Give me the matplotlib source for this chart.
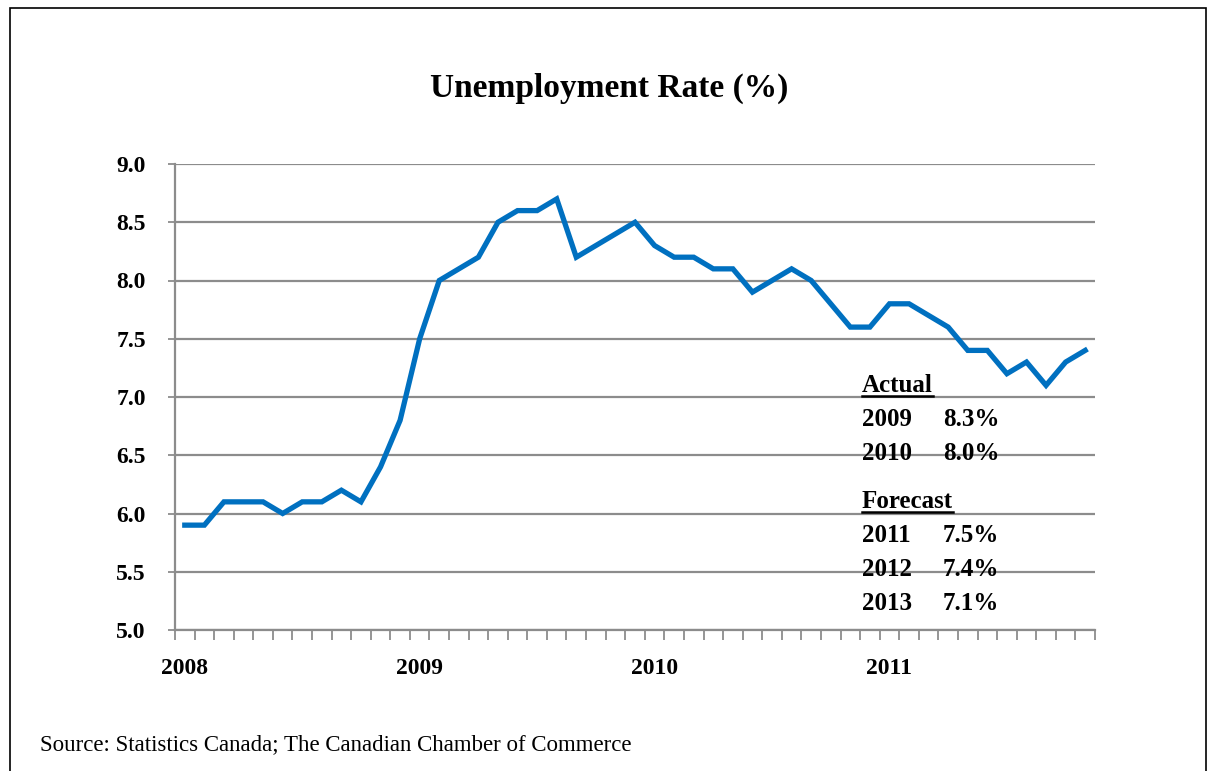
import matplotlib.pyplot as plt
from matplotlib.lines import Line2D
from matplotlib.patches import Rectangle

plt.rcParams["font.family"] = ["Liberation Serif", "DejaVu Serif"]

# monthly unemployment rate, Jan 2008 - Nov 2011
rates = [5.9, 5.9, 6.1, 6.1, 6.1, 6.0, 6.1, 6.1, 6.2, 6.1, 6.4, 6.8,
         7.5, 8.0, 8.1, 8.2, 8.5, 8.6, 8.6, 8.7, 8.2, 8.3, 8.4, 8.5,
         8.3, 8.2, 8.2, 8.1, 8.1, 7.9, 8.0, 8.1, 8.0, 7.8, 7.6, 7.6,
         7.8, 7.8, 7.7, 7.6, 7.4, 7.4, 7.2, 7.3, 7.1, 7.3, 7.4]
year_labels = ["2008", "2009", "2010", "2011"]
y_ticks = [5.0, 5.5, 6.0, 6.5, 7.0, 7.5, 8.0, 8.5, 9.0]

actual_years = ["2009", "2010"]
actual_rates = ["8.3%", "8.0%"]
forecast_years = ["2011", "2012", "2013"]
forecast_rates = ["7.5%", "7.4%", "7.1%"]

W, H = 1210, 771
fig = plt.figure(figsize=(W / 100, H / 100), dpi=100)
ax = fig.add_axes([175 / W, 1 - 630 / H, 920 / W, 466 / H])

grid_c = "#8c8c8c"
x = list(range(len(rates)))
ax.plot(x, rates, color="#0070C0", lw=3.8, solid_joinstyle="miter", zorder=3)

ax.set_xlim(-0.5, len(rates) - 0.5)
ax.set_ylim(5.0, 9.0)
ax.set_yticks(y_ticks)
ax.set_yticklabels([f"{v:.1f}" for v in y_ticks], fontsize=17, fontweight="bold")
ax.yaxis.grid(True, color=grid_c, lw=1.6)
ax.set_axisbelow(True)

# category boundary ticks, year labels under January
ax.set_xticks([i - 0.5 for i in range(len(rates) + 1)])
ax.set_xticklabels([])
ax.set_xticks(range(0, len(rates), 12), minor=True)
ax.set_xticklabels(year_labels, minor=True, fontsize=17, fontweight="bold")
ax.tick_params(axis="x", which="major", length=7, width=1.3, color=grid_c)
ax.tick_params(axis="x", which="minor", length=0, pad=20)
ax.tick_params(axis="y", length=5, width=1.3, color=grid_c, pad=16)

for s in ["top", "right"]:
    ax.spines[s].set_visible(False)
for s in ["left", "bottom"]:
    ax.spines[s].set_color(grid_c)
    ax.spines[s].set_linewidth(1.6)

fig.text(609 / W, 1 - 88 / H, "Unemployment Rate (%)", ha="center", va="center",
         fontsize=24, fontweight="bold")

# actual / forecast notes
def note_block(title, years, vals, y0):
    t = fig.text(862 / W, 1 - y0 / H, title, fontsize=18, fontweight="bold", va="baseline")
    fig.canvas.draw()
    bb = t.get_window_extent()
    fig.add_artist(Line2D([bb.x0 / W, bb.x1 / W], [(H - y0 - 4) / H] * 2,
                          color="black", lw=1.8))
    for k, (yr, v) in enumerate(zip(years, vals)):
        yy = y0 + 34 * (k + 1)
        fig.text(862 / W, 1 - yy / H, yr, fontsize=18, fontweight="bold", va="baseline")
        fig.text(943 / W, 1 - yy / H, v, fontsize=18, fontweight="bold", va="baseline")

note_block("Actual", actual_years, actual_rates, 392)
note_block("Forecast", forecast_years, forecast_rates, 508)

fig.text(40 / W, 1 - 745 / H, "Source: Statistics Canada; The Canadian Chamber of Commerce",
         fontsize=16.5, va="center")

fig.add_artist(Rectangle((10 / W, -0.05), 1196 / W, 1.05 - 8 / H, fill=False,
                         ec="black", lw=1.2, transform=fig.transFigure))

fig.savefig("out.png", dpi=100)
